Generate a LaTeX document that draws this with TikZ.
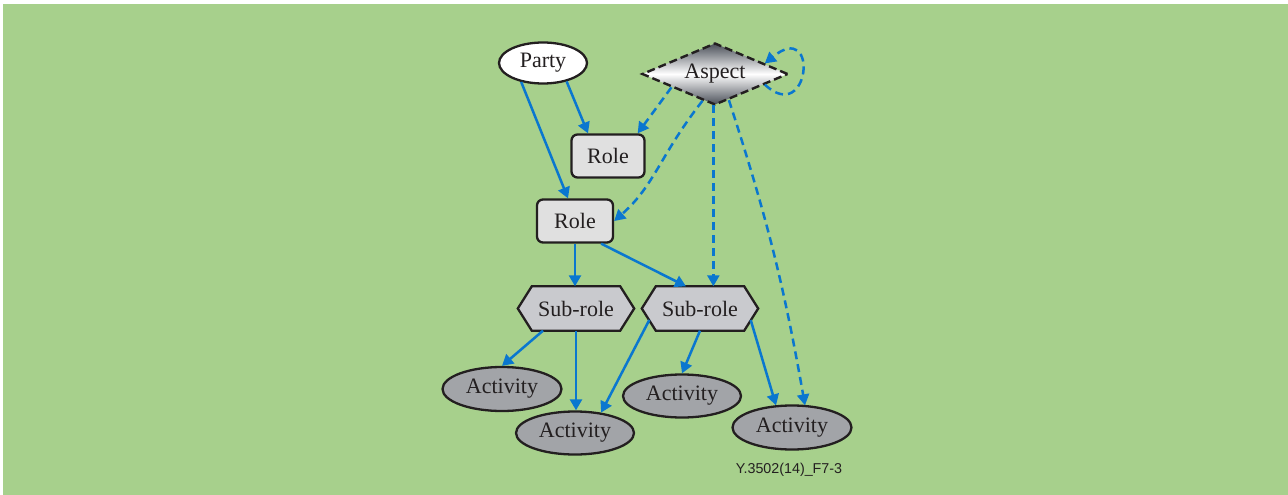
\documentclass[tikz,border=0pt]{standalone}
\usepackage{fontspec}
\setmainfont{Liberation Serif}
\newfontfamily\labelsans{Liberation Sans}
\usetikzlibrary{shapes.geometric,arrows.meta,calc,backgrounds}

\definecolor{bggreen}{RGB}{167,208,140}
\definecolor{linkblue}{RGB}{10,119,207}
\definecolor{rolegray}{RGB}{224,224,224}
\definecolor{subgray}{RGB}{201,202,206}
\definecolor{actgray}{RGB}{162,164,168}
\definecolor{shadedark}{RGB}{74,79,88}
\definecolor{inkblack}{RGB}{35,31,32}

\begin{document}
\begin{tikzpicture}[x=1pt,y=-1pt,
  every node/.style={font=\fontsize{22}{26}\selectfont, text=inkblack, inner sep=0pt},
  outline/.style={draw=inkblack, line width=2.3pt},
  partybox/.style={outline, ellipse, fill=white, minimum width=88pt, minimum height=41pt},
  aspectbox/.style={diamond, aspect=2.3, minimum width=146pt, minimum height=62pt,
    draw=inkblack, line width=2.4pt, dash pattern=on 8pt off 4pt,
    top color=shadedark, bottom color=shadedark, middle color=white},
  rolebox/.style={outline, rectangle, rounded corners=6pt, fill=rolegray,
    minimum width=73pt, minimum height=43pt},
  subtext/.style={rectangle, minimum width=116pt, minimum height=44pt},
  hexbox/.style={outline, fill=subgray, line join=miter},
  actbox/.style={outline, ellipse, fill=actgray, minimum width=118pt, minimum height=43pt},
  link/.style={draw=linkblue, line width=2.5pt, -{Triangle[length=11pt,width=12pt]}},
  dashlink/.style={link, dash pattern=on 8pt off 5pt},
]
\useasboundingbox (0,0) rectangle (1288,495);

% backdrop
\begin{scope}[on background layer]
  \fill[white] (0,0) rectangle (1288,495);
  \fill[bggreen] (3,4) rectangle (1288,495);
\end{scope}

% nodes
\node[partybox] (party) at (543,63) {Party};
\node[aspectbox] (aspect) at (715,74) {Aspect};
\node[rolebox] (role1) at (608,156) {Role};
\node[rolebox, minimum width=76pt] (role2) at (575,221) {Role};
\node[subtext] (sub1) at (576,308.5) {Sub-role};
\node[subtext] (sub2) at (700,308.5) {Sub-role};
\node[actbox, minimum width=119pt, minimum height=44pt] (act1) at (502,389) {Activity};
\node[actbox] (act2) at (575,433) {Activity};
\node[actbox] (act3) at (682,396) {Activity};
\node[actbox, minimum width=119pt, minimum height=44pt] (act4) at (792,427.5) {Activity};
\node[font=\labelsans\fontsize{14.3}{17}\selectfont] (figref) at (789,470) {Y.3502(14)\_F7-3};

% hexagonal outlines of the sub-role boxes
\begin{scope}[on background layer]
  \foreach \h in {sub1,sub2}{
    \path[hexbox] (\h.west) -- ($(\h.north west)+(14,0)$) -- ($(\h.north east)+(-14,0)$)
      -- (\h.east) -- ($(\h.south east)+(-14,0)$) -- ($(\h.south west)+(14,0)$) -- cycle;
  }
\end{scope}

% solid links
\draw[link] (party.-38) -- ($(role1.north)+(-20,0)$);
\draw[link] (party.-139) -- ($(role2.north)+(-7,0)$);
\draw[link] (role2.south) -- (role2.south |- sub1.north);
\draw[link] ($(role2.south east)+(-13,0)$) -- ($(sub2.north)+(-14,0)$);
\draw[link] ($(sub1.south)+(-33,0)$) -- (act1.north);
\draw[link] (sub1.south) -- (sub1.south |- act2.north);
\draw[link] ($(sub2.west)+(7.5,11.5)$) -- (act2.38);
\draw[link] (sub2.south) -- (act3.north);
\draw[link] ($(sub2.east)+(-7.5,11.5)$) -- ($(act4.north)+(-16,1)$);

% dashed links from the aspect
\draw[dashlink] (aspect.-163) -- ($(role1.north east)+(-8,0)$);
\draw[dashlink] (aspect.-115) .. controls (660,155) and (655,185) .. (role2.east);
\draw[dashlink] (aspect.-93) -- (aspect.-93 |- sub2.north);
\draw[dashlink] (aspect.-62) to[out=-72,in=100] ($(act4.north)+(13,1)$);
\draw[dashlink] (aspect.-12) .. controls +(45,42) and +(55,-45) .. (aspect.12);
\end{tikzpicture}
\end{document}
